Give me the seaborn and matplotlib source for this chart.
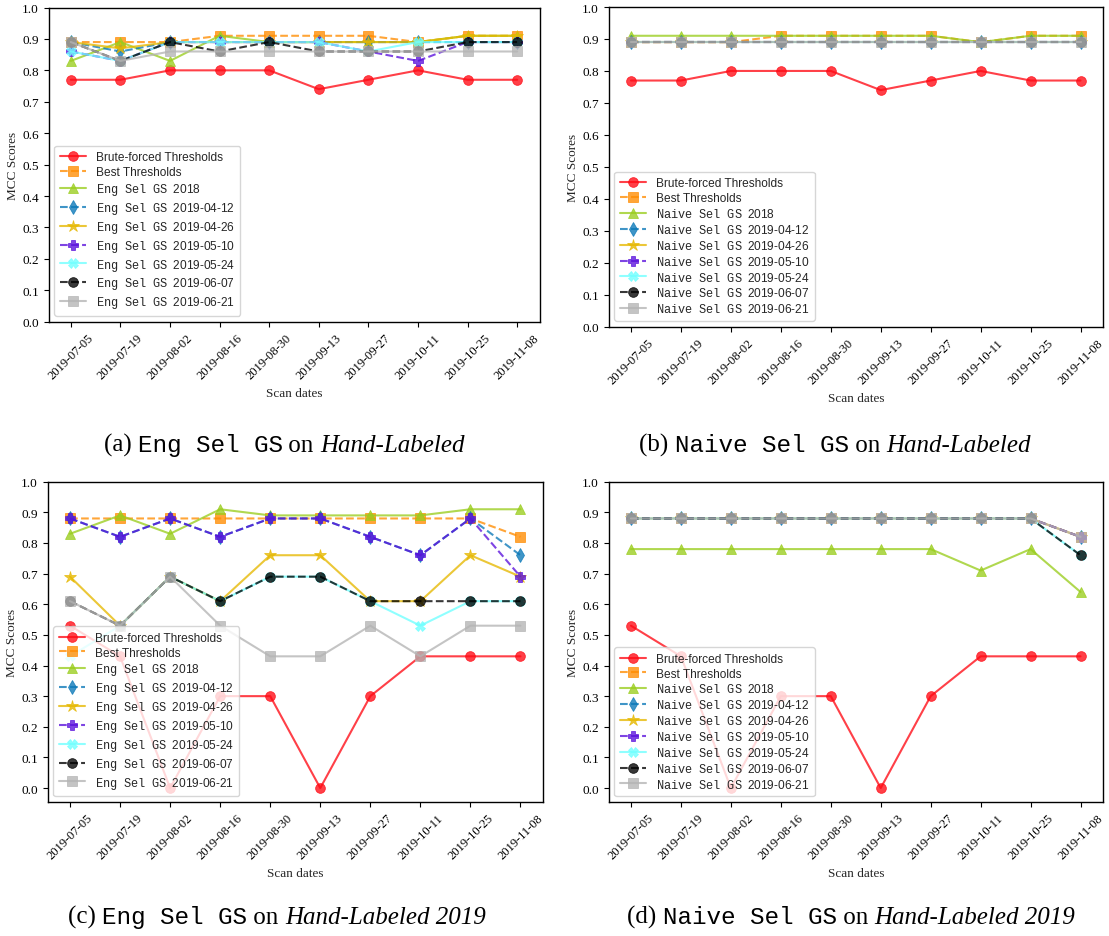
import matplotlib
matplotlib.use("Agg")
import matplotlib.pyplot as plt
import seaborn as sns

sns.set_style("ticks")
plt.rcParams["font.family"] = ["Liberation Serif", "DejaVu Serif"]
plt.rcParams["mathtext.fontset"] = "custom"
plt.rcParams["mathtext.tt"] = "Liberation Mono"
plt.rcParams["mathtext.rm"] = "Liberation Sans"
plt.rcParams["axes.edgecolor"] = "black"
plt.rcParams["xtick.color"] = "black"
plt.rcParams["ytick.color"] = "black"

# ---------------------------------------------------------------- data
scan_dates = ["2019-07-05", "2019-07-19", "2019-08-02", "2019-08-16", "2019-08-30",
              "2019-09-13", "2019-09-27", "2019-10-11", "2019-10-25", "2019-11-08"]
gs_versions = ["2018", "2019-04-12", "2019-04-26", "2019-05-10",
               "2019-05-24", "2019-06-07", "2019-06-21"]
y_ticks = [0.0, 0.1, 0.2, 0.3, 0.4, 0.5, 0.6, 0.7, 0.8, 0.9, 1.0]

# Hand-Labeled dataset: reference thresholds
hl_brute = [0.77, 0.77, 0.80, 0.80, 0.80, 0.74, 0.77, 0.80, 0.77, 0.77]
hl_best = [0.89, 0.89, 0.89, 0.91, 0.91, 0.91, 0.91, 0.89, 0.91, 0.91]

# Hand-Labeled 2019 dataset: reference thresholds
hl19_brute = [0.53, 0.43, 0.00, 0.30, 0.30, 0.00, 0.30, 0.43, 0.43, 0.43]
hl19_best = [0.88, 0.88, 0.88, 0.88, 0.88, 0.88, 0.88, 0.88, 0.88, 0.82]

# Eng Sel GS on Hand-Labeled
eng_hl_2018 = [0.83, 0.89, 0.83, 0.91, 0.89, 0.89, 0.89, 0.89, 0.91, 0.91]
eng_hl_0412 = [0.89, 0.86, 0.89, 0.89, 0.89, 0.89, 0.89, 0.89, 0.89, 0.89]
eng_hl_0426 = [0.89, 0.87, 0.89, 0.89, 0.89, 0.89, 0.89, 0.89, 0.91, 0.91]
eng_hl_0510 = [0.86, 0.83, 0.89, 0.89, 0.89, 0.89, 0.86, 0.83, 0.89, 0.89]
eng_hl_0524 = [0.86, 0.83, 0.89, 0.89, 0.89, 0.89, 0.86, 0.89, 0.89, 0.89]
eng_hl_0607 = [0.89, 0.83, 0.89, 0.86, 0.89, 0.86, 0.86, 0.86, 0.89, 0.89]
eng_hl_0621 = [0.89, 0.83, 0.86, 0.86, 0.86, 0.86, 0.86, 0.86, 0.86, 0.86]

# Naive Sel GS on Hand-Labeled
naive_hl_2018 = [0.91, 0.91, 0.91, 0.91, 0.91, 0.91, 0.91, 0.89, 0.91, 0.91]
naive_hl_0412 = [0.89, 0.89, 0.89, 0.89, 0.89, 0.89, 0.89, 0.89, 0.89, 0.89]
naive_hl_0426 = [0.89, 0.89, 0.89, 0.89, 0.89, 0.89, 0.89, 0.89, 0.89, 0.89]
naive_hl_0510 = [0.89, 0.89, 0.89, 0.89, 0.89, 0.89, 0.89, 0.89, 0.89, 0.89]
naive_hl_0524 = [0.89, 0.89, 0.89, 0.89, 0.89, 0.89, 0.89, 0.89, 0.89, 0.89]
naive_hl_0607 = [0.89, 0.89, 0.89, 0.89, 0.89, 0.89, 0.89, 0.89, 0.89, 0.89]
naive_hl_0621 = [0.89, 0.89, 0.89, 0.89, 0.89, 0.89, 0.89, 0.89, 0.89, 0.89]

# Eng Sel GS on Hand-Labeled 2019
eng_hl19_2018 = [0.83, 0.89, 0.83, 0.91, 0.89, 0.89, 0.89, 0.89, 0.91, 0.91]
eng_hl19_0412 = [0.88, 0.82, 0.88, 0.82, 0.88, 0.88, 0.82, 0.76, 0.88, 0.76]
eng_hl19_0426 = [0.69, 0.53, 0.69, 0.61, 0.76, 0.76, 0.61, 0.61, 0.76, 0.69]
eng_hl19_0510 = [0.88, 0.82, 0.88, 0.82, 0.88, 0.88, 0.82, 0.76, 0.88, 0.69]
eng_hl19_0524 = [0.43, 0.53, 0.69, 0.61, 0.69, 0.69, 0.61, 0.53, 0.61, 0.61]
eng_hl19_0607 = [0.61, 0.53, 0.69, 0.61, 0.69, 0.69, 0.61, 0.61, 0.61, 0.61]
eng_hl19_0621 = [0.61, 0.53, 0.69, 0.53, 0.43, 0.43, 0.53, 0.43, 0.53, 0.53]

# Naive Sel GS on Hand-Labeled 2019
naive_hl19_2018 = [0.78, 0.78, 0.78, 0.78, 0.78, 0.78, 0.78, 0.71, 0.78, 0.64]
naive_hl19_0412 = [0.88, 0.88, 0.88, 0.88, 0.88, 0.88, 0.88, 0.88, 0.88, 0.82]
naive_hl19_0426 = [0.88, 0.88, 0.88, 0.88, 0.88, 0.88, 0.88, 0.88, 0.88, 0.82]
naive_hl19_0510 = [0.88, 0.88, 0.88, 0.88, 0.88, 0.88, 0.88, 0.88, 0.88, 0.82]
naive_hl19_0524 = [0.88, 0.88, 0.88, 0.88, 0.88, 0.88, 0.88, 0.88, 0.88, 0.76]
naive_hl19_0607 = [0.88, 0.88, 0.88, 0.88, 0.88, 0.88, 0.88, 0.88, 0.88, 0.76]
naive_hl19_0621 = [0.88, 0.88, 0.88, 0.88, 0.88, 0.88, 0.88, 0.88, 0.88, 0.82]

# ---------------------------------------------------------------- styles
ref_styles = [
    dict(color="#ff0a14", marker="o", linestyle="-"),
    dict(color="#ff8c00", marker="s", linestyle="--"),
]
gs_styles = [
    dict(color="#9acd1e", marker="^", linestyle="-"),
    dict(color="#0a78b8", marker="d", linestyle="--"),
    dict(color="#e6b800", marker="*", linestyle="-"),
    dict(color="#5a10dc", marker="P", linestyle="--"),
    dict(color="#70ffff", marker="X", linestyle="-"),
    dict(color="#000000", marker="o", linestyle="--"),
    dict(color="#b4b4b4", marker="s", linestyle="-"),
]

W, H = 1109, 937
fig = plt.figure(figsize=(W / 100, H / 100), dpi=100)


def add_axes_px(left, top, right, bottom):
    return fig.add_axes([left / W, 1 - bottom / H, (right - left) / W, (bottom - top) / H])


def draw_panel(ax, brute, best, gs_series, method, ylim):
    labels = ["Brute-forced Thresholds", "Best Thresholds"]
    series = [brute, best] + gs_series
    sp = r"\hspace{0.6}"
    tt = r"$\mathtt{" + method + "}" + sp + r"\mathtt{Sel}" + sp + r"\mathtt{GS}$" + "\u2002"
    labels += [tt + v for v in gs_versions]
    for vals, lab, st in zip(series, labels, ref_styles + gs_styles):
        ms = 9 if st["marker"] == "*" else 7
        sns.lineplot(x=scan_dates, y=vals, ax=ax, label=lab, sort=False,
                     color=st["color"], marker=st["marker"], linestyle=st["linestyle"],
                     markersize=ms, markeredgewidth=0.6, markeredgecolor=st["color"],
                     linewidth=1.5, alpha=0.78)
    ax.set_ylim(*ylim)
    ax.set_yticks(y_ticks)
    ax.set_yticklabels([f"{t:.1f}" for t in y_ticks], fontsize=9.5)
    ax.tick_params(axis="x", labelsize=9, labelrotation=45)
    ax.set_xlabel("Scan dates", fontsize=9.5)
    ax.set_ylabel("MCC Scores", fontsize=9.5, labelpad=2)
    for s in ax.spines.values():
        s.set_linewidth(1.0)
        s.set_visible(True)
    leg = ax.legend(loc="lower left", prop={"family": "Liberation Sans", "size": 8.6},
                    framealpha=0.8, handlelength=2.2, labelspacing=0.24,
                    borderpad=0.45, borderaxespad=0.5)
    leg.get_frame().set_edgecolor("#cccccc")


ax_a = add_axes_px(48.5, 8.5, 539.5, 322.7)
ax_b = add_axes_px(608.5, 8.0, 1103, 327.7)
ax_c = add_axes_px(47.5, 482.7, 543, 803)
ax_d = add_axes_px(608.5, 482.7, 1103, 803)

draw_panel(ax_a, hl_brute, hl_best,
           [eng_hl_2018, eng_hl_0412, eng_hl_0426, eng_hl_0510, eng_hl_0524, eng_hl_0607, eng_hl_0621],
           "Eng", (0, 1))
draw_panel(ax_b, hl_brute, hl_best,
           [naive_hl_2018, naive_hl_0412, naive_hl_0426, naive_hl_0510, naive_hl_0524, naive_hl_0607,
            naive_hl_0621],
           "Naive", (0, 1))
draw_panel(ax_c, hl19_brute, hl19_best,
           [eng_hl19_2018, eng_hl19_0412, eng_hl19_0426, eng_hl19_0510, eng_hl19_0524, eng_hl19_0607,
            eng_hl19_0621],
           "Eng", (-0.0455, 1))
draw_panel(ax_d, hl19_brute, hl19_best,
           [naive_hl19_2018, naive_hl19_0412, naive_hl19_0426, naive_hl19_0510, naive_hl19_0524,
            naive_hl19_0607, naive_hl19_0621],
           "Naive", (-0.0455, 1))

# ---------------------------------------------------------------- captions
serif = dict(family="Liberation Serif", size=18)
mono = dict(family="Liberation Mono", size=17.5)
italic = dict(family="Liberation Serif", size=18, style="italic")


def caption(cx, baseline, pieces):
    renderer = fig.canvas.get_renderer()
    texts = []
    for s, props in pieces:
        t = fig.text(0, 1 - baseline / H, s, va="baseline", ha="left", color="black", **props)
        texts.append(t)
    widths = [t.get_window_extent(renderer).width for t in texts]
    x = cx - sum(widths) / 2
    for t, w in zip(texts, widths):
        t.set_x(x / W)
        x += w


caption(284, 452, [("(a)\u00a0", serif), ("Eng Sel GS", mono), ("\u00a0on\u00a0", serif),
                   ("Hand-Labeled", italic)])
caption(835, 452, [("(b)\u00a0", serif), ("Naive Sel GS", mono), ("\u00a0on\u00a0", serif),
                   ("Hand-Labeled", italic)])
caption(277, 924, [("(c)\u00a0", serif), ("Eng Sel GS", mono), ("\u00a0on\u00a0", serif),
                   ("Hand-Labeled 2019", italic)])
caption(851, 924, [("(d)\u00a0", serif), ("Naive Sel GS", mono), ("\u00a0on\u00a0", serif),
                   ("Hand-Labeled 2019", italic)])

fig.savefig("out.png", dpi=100)
